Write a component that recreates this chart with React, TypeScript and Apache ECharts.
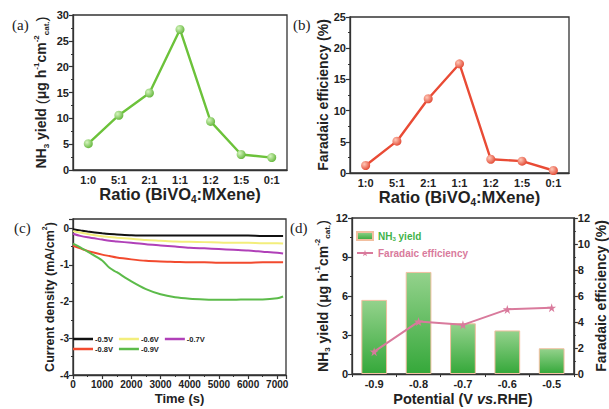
import React, { useEffect, useRef } from "react";
import * as echarts from "echarts";

const ratioCats = ["1:0", "5:1", "2:1", "1:1", "1:2", "1:5", "0:1"];
const nh3Yield = [5.1, 10.6, 14.9, 27.2, 9.4, 3.0, 2.4];
const faradaicEff = [1.2, 5.1, 11.9, 17.5, 2.2, 1.9, 0.4];

const timeS = [0, 250, 500, 1000, 1250, 1500, 2000, 2500, 3000, 3500, 4000, 4500, 5000, 5500, 6000, 6500, 7000, 7200];
const j05 = [-0.03, -0.06, -0.09, -0.14, -0.16, -0.17, -0.19, -0.2, -0.2, -0.2, -0.2, -0.2, -0.2, -0.2, -0.2, -0.21, -0.21, -0.21];
const j06 = [-0.08, -0.12, -0.16, -0.22, -0.24, -0.26, -0.29, -0.32, -0.34, -0.36, -0.37, -0.38, -0.39, -0.4, -0.4, -0.41, -0.41, -0.42];
const j07 = [-0.15, -0.21, -0.25, -0.31, -0.34, -0.36, -0.4, -0.44, -0.47, -0.5, -0.53, -0.55, -0.57, -0.59, -0.61, -0.64, -0.67, -0.69];
const j08 = [-0.48, -0.55, -0.62, -0.72, -0.76, -0.8, -0.85, -0.89, -0.91, -0.92, -0.93, -0.93, -0.94, -0.94, -0.94, -0.93, -0.93, -0.93];
const j09 = [-0.42, -0.52, -0.64, -0.88, -1.08, -1.2, -1.45, -1.66, -1.8, -1.88, -1.92, -1.94, -1.95, -1.95, -1.94, -1.94, -1.91, -1.86];

const potentials = ["-0.9", "-0.8", "-0.7", "-0.6", "-0.5"];
const potYield = [5.7, 7.85, 3.9, 3.35, 1.98];
const potFE = [1.72, 4.03, 3.78, 4.97, 5.1];

const F = "'Liberation Sans', Arial, sans-serif";
const SERIF = "'Liberation Serif', 'Times New Roman', serif";
const AX = "#333";
const STAR = "path://M50,0 L61,35 L98,35 L68,57 L79,91 L50,70 L21,91 L32,57 L2,35 L39,35 Z";

const mkRich = (size: number) => ({
  b: { fontSize: size, fontWeight: "bold", fontFamily: F, color: "#222", lineHeight: size + 4 },
  i: { fontSize: size, fontWeight: "bold", fontStyle: "italic", fontFamily: F, color: "#222", lineHeight: size + 4 },
  p: { fontSize: size + 1, fontWeight: "normal", fontFamily: F, color: "#222", lineHeight: size + 4 },
  sub: { fontSize: Math.round(size * 0.58), fontWeight: "bold", fontFamily: F, color: "#222", verticalAlign: "bottom" },
  sup: { fontSize: Math.round(size * 0.58), fontWeight: "bold", fontFamily: F, color: "#222", verticalAlign: "top" },
});

const yieldName = "{b|NH}{sub|3}{b| yield }{p|(}{b|μg h}{sup|-1}{b|cm}{sup|-2}{sub|cat.}{p|)}";

const axisCommon = (extra: any, size = 14, labelSize = 11) => ({
  axisLine: { show: true, onZero: false, lineStyle: { color: AX, width: 1.3 } },
  axisTick: { show: true, length: 4, lineStyle: { color: AX, width: 1.2 } },
  axisLabel: { fontFamily: F, fontWeight: "bold", fontSize: labelSize, color: "#222", margin: 4 },
  splitLine: { show: false },
  nameTextStyle: { rich: mkRich(size) },
  ...extra,
});

const sphere = (light: string, dark: string) => ({
  type: "radial",
  x: 0.35,
  y: 0.35,
  r: 0.75,
  colorStops: [
    { offset: 0, color: light },
    { offset: 1, color: dark },
  ],
});

export default function App() {
  const ref = useRef<HTMLDivElement>(null);
  useEffect(() => {
    const chart = echarts.init(ref.current!, null, { renderer: "svg" });
    const pair = (arr: number[]) => timeS.map((t, k) => [t, arr[k]]);
    const gridBox = { show: true, borderColor: AX, borderWidth: 1.3, backgroundColor: "transparent" };
    const minor = { show: true, splitNumber: 2, length: 2, lineStyle: { color: AX } };
    chart.setOption({
      animation: false,
      backgroundColor: "#fff",
      grid: [
        { left: 73, top: 15, width: 214, height: 155, ...gridBox },
        { left: 350, top: 17, width: 219, height: 156, ...gridBox },
        { left: 73, top: 219, width: 213, height: 156, ...gridBox },
        { left: 352, top: 218, width: 222, height: 156, ...gridBox },
      ],
      xAxis: [
        axisCommon({
          type: "category", gridIndex: 0, data: ratioCats, boundaryGap: true,
          axisTick: { show: false },
          name: "{b|Ratio (BiVO}{sub|4}{b|:MXene)}", nameLocation: "middle", nameGap: 14,
        }, 16.5),
        axisCommon({
          type: "category", gridIndex: 1, data: ratioCats, boundaryGap: true,
          axisTick: { show: false },
          name: "{b|Ratio (BiVO}{sub|4}{b|:MXene)}", nameLocation: "middle", nameGap: 14,
        }, 16.5),
        axisCommon({
          type: "value", gridIndex: 2, min: 0, max: 7300, interval: 1000,
          minorTick: minor,
          axisLabel: {
            fontFamily: F, fontWeight: "bold", fontSize: 10, color: "#222", margin: 4, showMaxLabel: false,
            formatter: (v: number) => String(v),
          },
          name: "{b|Time (s)}", nameLocation: "middle", nameGap: 15,
        }, 13),
        axisCommon({
          type: "category", gridIndex: 3, data: potentials, boundaryGap: true,
          axisTick: { show: true, length: 3, lineStyle: { color: AX } },
          name: "{b|Potential (V }{i|vs.}{b|RHE)}", nameLocation: "middle", nameGap: 16,
        }, 14.5),
      ],
      yAxis: [
        axisCommon({
          type: "value", gridIndex: 0, min: 0, max: 30, interval: 5,
          minorTick: minor,
          name: yieldName, nameLocation: "middle", nameRotate: 90, nameGap: 23,
        }),
        axisCommon({
          type: "value", gridIndex: 1, min: 0, max: 25, interval: 5,
          minorTick: minor,
          name: "{b|Faradaic efficiency (%)}", nameLocation: "middle", nameRotate: 90, nameGap: 16,
        }),
        axisCommon({
          type: "value", gridIndex: 2, min: -4, max: 0.25, interval: 1,
          minorTick: minor,
          axisLabel: { fontFamily: F, fontWeight: "bold", fontSize: 10, color: "#222", margin: 4, showMaxLabel: false },
          name: "{b|Current density (mA/cm}{sup|2}{b|)}", nameLocation: "middle", nameRotate: 90, nameGap: 11,
        }, 12.5),
        axisCommon({
          type: "value", gridIndex: 3, min: 0, max: 12, interval: 3,
          minorTick: minor,
          name: yieldName, nameLocation: "middle", nameRotate: 90, nameGap: 16,
        }),
        axisCommon({
          type: "value", gridIndex: 3, position: "right", min: 0, max: 12, interval: 2,
          minorTick: minor,
          name: "{b|Faradaic efficiency (%)}", nameLocation: "middle", nameRotate: 90, nameGap: 17,
        }),
      ],
      legend: [
        {
          data: ["-0.5V", "-0.6V", "-0.7V"], left: 73, top: 335, icon: "rect",
          itemWidth: 20, itemHeight: 2.5, itemGap: 6, padding: 0,
          textStyle: { fontFamily: F, fontWeight: "bold", fontSize: 7.5, color: "#222", padding: [0, 0, 0, -3] },
        },
        {
          data: ["-0.8V", "-0.9V"], left: 73, top: 345, icon: "rect",
          itemWidth: 20, itemHeight: 2.5, itemGap: 6, padding: 0,
          textStyle: { fontFamily: F, fontWeight: "bold", fontSize: 7.5, color: "#222", padding: [0, 0, 0, -3] },
        },
        {
          data: [
            { name: "NH3 yield", icon: "rect", textStyle: { color: "#3fb34a" } },
            { name: "Faradaic efficiency", textStyle: { color: "#d97a9c" } },
          ],
          orient: "vertical", left: 356, top: 231, itemGap: 6, itemWidth: 16, itemHeight: 8, padding: 0,
          formatter: (n: string) => (n === "NH3 yield" ? "{g|NH}{gs|3}{g| yield}" : "{pk|" + n + "}"),
          textStyle: {
            fontFamily: F, fontWeight: "bold", fontSize: 10,
            rich: {
              g: { fontFamily: F, fontWeight: "bold", fontSize: 10, color: "#3fb34a", lineHeight: 12 },
              gs: { fontFamily: F, fontWeight: "bold", fontSize: 6, color: "#3fb34a", verticalAlign: "bottom" },
              pk: { fontFamily: F, fontWeight: "bold", fontSize: 10, color: "#d97a9c" },
            },
          },
        },
      ],
      graphic: [
        { type: "text", left: 12, top: 17, style: { text: "(a)", font: `15px ${SERIF}`, fill: "#222" } },
        { type: "text", left: 293, top: 17, style: { text: "(b)", font: `15px ${SERIF}`, fill: "#222" } },
        { type: "text", left: 14, top: 220, style: { text: "(c)", font: `15px ${SERIF}`, fill: "#222" } },
        { type: "text", left: 290, top: 220, style: { text: "(d)", font: `15px ${SERIF}`, fill: "#222" } },
      ],
      series: [
        {
          type: "line", name: "yieldA", xAxisIndex: 0, yAxisIndex: 0, data: nh3Yield,
          lineStyle: { color: "#6cc23a", width: 2.4 }, symbol: "circle", symbolSize: 9,
          itemStyle: { color: sphere("#d6f5c0", "#5cb232"), borderWidth: 0 },
        },
        {
          type: "line", name: "feB", xAxisIndex: 1, yAxisIndex: 1, data: faradaicEff,
          lineStyle: { color: "#e94b35", width: 2.4 }, symbol: "circle", symbolSize: 9,
          itemStyle: { color: sphere("#ffc8b8", "#e0402a"), borderWidth: 0 },
        },
        { type: "line", name: "-0.5V", xAxisIndex: 2, yAxisIndex: 2, data: pair(j05), showSymbol: false, symbol: "none", smooth: 0.3, lineStyle: { color: "#111", width: 2 }, itemStyle: { color: "#111" } },
        { type: "line", name: "-0.6V", xAxisIndex: 2, yAxisIndex: 2, data: pair(j06), showSymbol: false, symbol: "none", smooth: 0.3, lineStyle: { color: "#f3ee7c", width: 2 }, itemStyle: { color: "#f3ee7c" } },
        { type: "line", name: "-0.7V", xAxisIndex: 2, yAxisIndex: 2, data: pair(j07), showSymbol: false, symbol: "none", smooth: 0.3, lineStyle: { color: "#b040b8", width: 2 }, itemStyle: { color: "#b040b8" } },
        { type: "line", name: "-0.8V", xAxisIndex: 2, yAxisIndex: 2, data: pair(j08), showSymbol: false, symbol: "none", smooth: 0.3, lineStyle: { color: "#f24a2e", width: 2 }, itemStyle: { color: "#f24a2e" } },
        { type: "line", name: "-0.9V", xAxisIndex: 2, yAxisIndex: 2, data: pair(j09), showSymbol: false, symbol: "none", smooth: 0.3, lineStyle: { color: "#5cbb4a", width: 2 }, itemStyle: { color: "#5cbb4a" } },
        {
          type: "bar", name: "NH3 yield", xAxisIndex: 3, yAxisIndex: 3, data: potYield, barWidth: "58%",
          itemStyle: {
            color: {
              type: "linear", x: 0, y: 0, x2: 0, y2: 1,
              colorStops: [
                { offset: 0, color: "#94d28c" },
                { offset: 1, color: "#35a83a" },
              ],
            },
            borderColor: "#f2bfa0", borderWidth: 1,
          },
        },
        {
          type: "line", name: "Faradaic efficiency", xAxisIndex: 3, yAxisIndex: 4, data: potFE,
          lineStyle: { color: "#d97a9c", width: 2 }, symbol: STAR, symbolSize: 9,
          itemStyle: { color: "#d97a9c" }, z: 5,
        },
      ],
    });
    return () => chart.dispose();
  }, []);
  return <div ref={ref} style={{ position: "fixed", left: 0, top: 0, width: 609, height: 409 }} />;
}
